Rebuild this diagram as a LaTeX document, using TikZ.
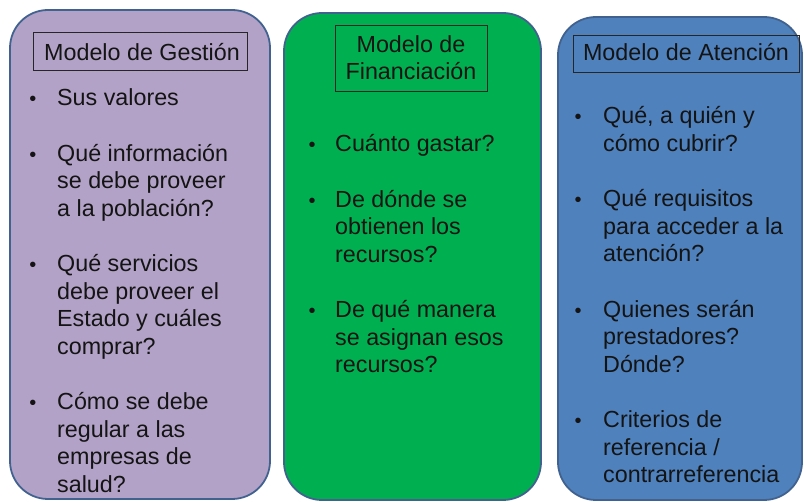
\documentclass[tikz,border=0pt]{standalone}
\usepackage{fontspec}
\setmainfont{Liberation Sans}
\definecolor{edgeblue}{HTML}{41628F}
\definecolor{purplefill}{HTML}{B3A2C7}
\definecolor{greenfill}{HTML}{00B050}
\definecolor{bluefill}{HTML}{4F81BD}
\begin{document}
\begin{tikzpicture}[x=1pt,y=-1pt,
  panel/.style={draw=edgeblue,line width=1.8pt,rounded corners=38pt},
  titlebox/.style={draw=black!85,line width=0.8pt},
  txt/.style={anchor=base west,inner sep=0pt,font=\fontsize{23.3}{27.6}\selectfont,text=black!92},
  ttl/.style={anchor=base,inner sep=0pt,font=\fontsize{23.3}{27.6}\selectfont,text=black!92},
  bul/.style={anchor=base,inner sep=0pt,font=\fontsize{20}{24}\selectfont,text=black!92}]
\useasboundingbox (0,0) rectangle (804,502);
% panels
\draw[panel,fill=purplefill] (10,10) rectangle (270,499);
\draw[panel,fill=greenfill] (284,13) rectangle (541,500);
\draw[panel,fill=bluefill] (558,17) rectangle (802,500);
% title boxes
\node[titlebox,minimum width=214pt,minimum height=38pt] (tb1) at (140,51.5) {};
\node[titlebox,minimum width=152pt,minimum height=66pt] (tb2) at (411,58) {};
\node[titlebox,minimum width=226pt,minimum height=37pt] (tb3) at (686,53.5) {};
\node[ttl] (t1) at (142,61) {Modelo de Gestión};
\node[ttl] (t2a) at (411,53) {Modelo de};
\node[ttl] (t2b) at (411,80) {Financiación};
\node[ttl] (t3) at (686,61) {Modelo de Atención};
% purple items
\foreach \n/\y in {1/106,2/161.2,3/271.6,4/409.6}
  \node[bul] (pb\n) at (33,\y) {•};
\foreach \n/\y/\t in {a/106/{Sus valores},
  b/161.2/{Qué información},c/188.8/{se debe proveer},d/216.4/{a la población?},
  e/271.6/{Qué servicios},f/299.2/{debe proveer el},g/326.8/{Estado y cuáles},h/354.4/{comprar?},
  i/409.6/{Cómo se debe},j/437.2/{regular a las},k/464.8/{empresas de},l/492.4/{salud?}}
  \node[txt] (p\n) at (57,\y) {\t};
% green items
\foreach \n/\y in {1/152,2/207.2,3/317.6}
  \node[bul] (gb\n) at (312,\y) {•};
\foreach \n/\y/\t in {a/152/{Cuánto gastar?},
  b/207.2/{De dónde se},c/234.8/{obtienen los},d/262.4/{recursos?},
  e/317.6/{De qué manera},f/345.2/{se asignan esos},g/372.8/{recursos?}}
  \node[txt] (g\n) at (335,\y) {\t};
% blue items
\foreach \n/\y in {1/124,2/206.8,3/317.2,4/427.6}
  \node[bul] (bb\n) at (578,\y) {•};
\foreach \n/\y/\t in {a/124/{Qué, a quién y},b/151.6/{cómo cubrir?},
  c/206.8/{Qué requisitos},d/234.4/{para acceder a la},e/262/{atención?},
  f/317.2/{Quienes serán},g/344.8/{prestadores?},h/372.4/{Dónde?},
  i/427.6/{Criterios de},j/455.2/{referencia /},k/482.8/{contrarreferencia}}
  \node[txt] (b\n) at (603,\y) {\t};
\end{tikzpicture}
\end{document}
